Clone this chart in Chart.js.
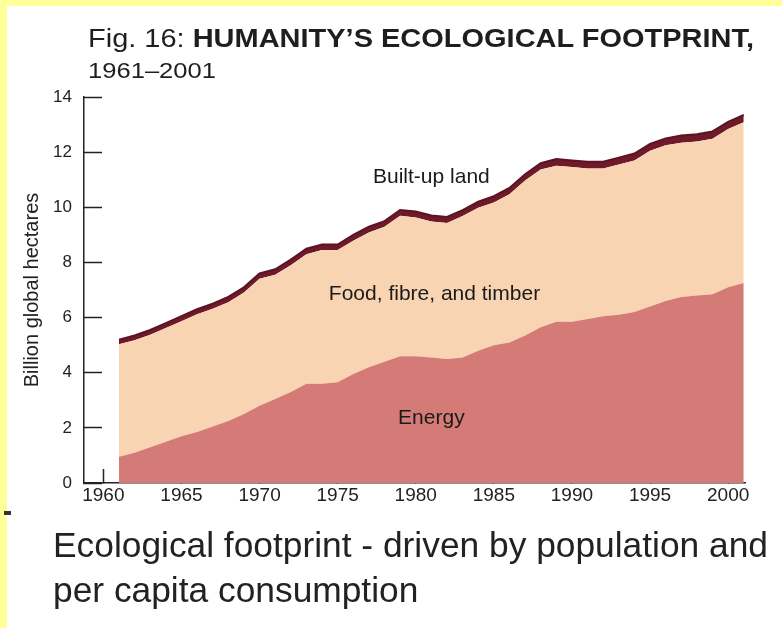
<!DOCTYPE html>
<html>
<head>
<meta charset="utf-8">
<script src="https://cdn.jsdelivr.net/npm/chart.js@4/dist/chart.umd.min.js"></script>
<style>
html,body{margin:0;padding:0;background:#fff;}
#wrap{position:relative;width:782px;height:628px;overflow:hidden;background:#fff;}
#topband{position:absolute;left:0;top:0;width:782px;height:6px;background:#ffff99;}
#leftband{position:absolute;left:0;top:0;width:7px;height:628px;background:#ffff99;}
#dash{position:absolute;left:4px;top:511px;width:7px;height:4px;background:#333;}
#c{position:absolute;left:0;top:0;}
.t{position:absolute;white-space:nowrap;font-family:'Liberation Sans',Arial,sans-serif;color:#1e1e1e;transform-origin:0 0;}
#t1{left:88px;top:25px;font-size:26px;line-height:26px;}
#t2{left:88px;top:60px;font-size:22px;line-height:22px;}
#cap1{left:53px;top:527px;font-size:35px;line-height:35px;color:#222;}
#cap2{left:53px;top:572px;font-size:35px;line-height:35px;color:#222;}
</style>
</head>
<body>
<div id="wrap">
  <div id="topband"></div>
  <div id="leftband"></div>
  <div id="dash"></div>
  <canvas id="c" width="782" height="628"></canvas>
  <div class="t" id="t1">Fig. 16: <b>HUMANITY’S ECOLOGICAL FOOTPRINT,</b></div>
  <div class="t" id="t2">1961–2001</div>
  <div class="t" id="cap1">Ecological footprint - driven by population and</div>
  <div class="t" id="cap2">per capita consumption</div>
</div>
<script>
// ---- data (billion global hectares) ----
const years = [1961,1962,1963,1964,1965,1966,1967,1968,1969,1970,
               1971,1972,1973,1974,1975,1976,1977,1978,1979,1980,
               1981,1982,1983,1984,1985,1986,1987,1988,1989,1990,
               1991,1992,1993,1994,1995,1996,1997,1998,1999,2000,2001];
const energy = [0.95,1.10,1.30,1.50,1.70,1.85,2.05,2.25,2.50,2.80,
                3.05,3.30,3.60,3.60,3.65,3.95,4.20,4.40,4.60,4.60,
                4.55,4.50,4.55,4.80,5.00,5.10,5.35,5.65,5.85,5.85,
                5.95,6.05,6.10,6.20,6.40,6.60,6.75,6.80,6.85,7.10,7.25];
const foodFibreTimber = [4.08,4.08,4.08,4.12,4.17,4.27,4.27,4.31,4.41,4.61,
                4.50,4.60,4.70,4.85,4.80,4.84,4.89,4.89,5.09,5.03,
                4.93,4.93,5.13,5.18,5.17,5.37,5.62,5.72,5.66,5.61,
                5.46,5.36,5.45,5.50,5.65,5.65,5.59,5.59,5.64,5.74,5.83];
const builtUpLand = [0.17,0.17,0.17,0.18,0.18,0.18,0.18,0.19,0.19,0.19,
                0.20,0.20,0.20,0.20,0.20,0.21,0.21,0.21,0.21,0.22,
                0.22,0.22,0.22,0.22,0.23,0.23,0.23,0.23,0.24,0.24,
                0.24,0.24,0.25,0.25,0.25,0.25,0.26,0.26,0.26,0.26,0.27];
const xTickLabels = [1960,1965,1970,1975,1980,1985,1990,1995,2000];
const yTickLabels = [0,2,4,6,8,10,12,14];
const seriesNames = ['Energy','Food, fibre, and timber','Built-up land'];

const FONT = "'Liberation Sans', Arial, sans-serif";

const areaLabels = [
  {text: seriesNames[2], x: 1981.0, y: 11.1},
  {text: seriesNames[1], x: 1981.2, y: 6.85},
  {text: seriesNames[0], x: 1981.0, y: 2.35}
];

const labelPlugin = {
  id: 'areaLabels',
  afterDatasetsDraw(chart) {
    const {ctx, scales: {x, y}} = chart;
    ctx.save();
    ctx.font = '21px ' + FONT;
    ctx.fillStyle = '#1a1a1a';
    ctx.textAlign = 'center';
    ctx.textBaseline = 'middle';
    areaLabels.forEach(l => ctx.fillText(l.text, x.getPixelForValue(l.x), y.getPixelForValue(l.y)));
    ctx.restore();
  }
};

const pts = arr => years.map((yr, i) => ({x: yr, y: arr[i]}));

new Chart(document.getElementById('c'), {
  type: 'line',
  data: {
    datasets: [
      {label: seriesNames[0], data: pts(energy), fill: 'origin',
       backgroundColor: '#d47b78', borderColor: '#d47b78', borderWidth: 0, pointRadius: 0},
      {label: seriesNames[1], data: pts(foodFibreTimber), fill: '-1',
       backgroundColor: '#f9d4b2', borderColor: '#f9d4b2', borderWidth: 0, pointRadius: 0},
      {label: seriesNames[2], data: pts(builtUpLand), fill: '-1',
       backgroundColor: '#6e1a2a', borderColor: '#5c1423', borderWidth: 2, pointRadius: 0}
    ]
  },
  options: {
    responsive: false,
    animation: false,
    events: [],
    layout: {padding: {left: 0, top: 97, right: 37, bottom: 105}},
    elements: {line: {tension: 0}},
    plugins: {legend: {display: false}, tooltip: {enabled: false}, title: {display: false}},
    scales: {
      x: {
        type: 'linear', min: 1958.76, max: 2001.08, z: 1,
        afterBuildTicks: s => { s.ticks = xTickLabels.map(v => ({value: v})); },
        afterFit: s => { s.height = 40; },
        grid: {drawOnChartArea: false, drawTicks: true, tickLength: -14, tickWidth: 1.5,
               tickColor: c => (c.tick && c.tick.value === 1960) ? '#222' : '#5a1018'},
        border: {color: '#222', width: 1.5},
        ticks: {padding: 15, color: '#222', font: {family: FONT, size: 19},
                maxRotation: 0, autoSkip: false, callback: v => String(v)}
      },
      y: {
        stacked: true, min: 0, max: 14,
        afterBuildTicks: s => { s.ticks = yTickLabels.map(v => ({value: v})); },
        afterFit: s => { s.width = 84; },
        grid: {drawOnChartArea: false, drawTicks: true, tickLength: -18, tickWidth: 1.5, tickColor: '#222'},
        border: {color: '#222', width: 1.5},
        ticks: {padding: 30, color: '#222', font: {family: FONT, size: 17}, callback: v => String(v)},
        title: {display: true, text: 'Billion global hectares', color: '#222',
                font: {family: FONT, size: 20}, padding: {top: 20, bottom: 0}}
      }
    }
  },
  plugins: [labelPlugin]
});

// fit the HTML text blocks to the widths seen in the reference
function fitWidth(id, target) {
  const el = document.getElementById(id);
  const w = el.getBoundingClientRect().width;
  if (w > 0) el.style.transform = 'scaleX(' + (target / w) + ')';
  return target / w;
}
fitWidth('t1', 666);
fitWidth('t2', 128);
const sc = fitWidth('cap1', 715);
document.getElementById('cap2').style.transform = 'scaleX(' + sc + ')';
</script>
</body>
</html>
